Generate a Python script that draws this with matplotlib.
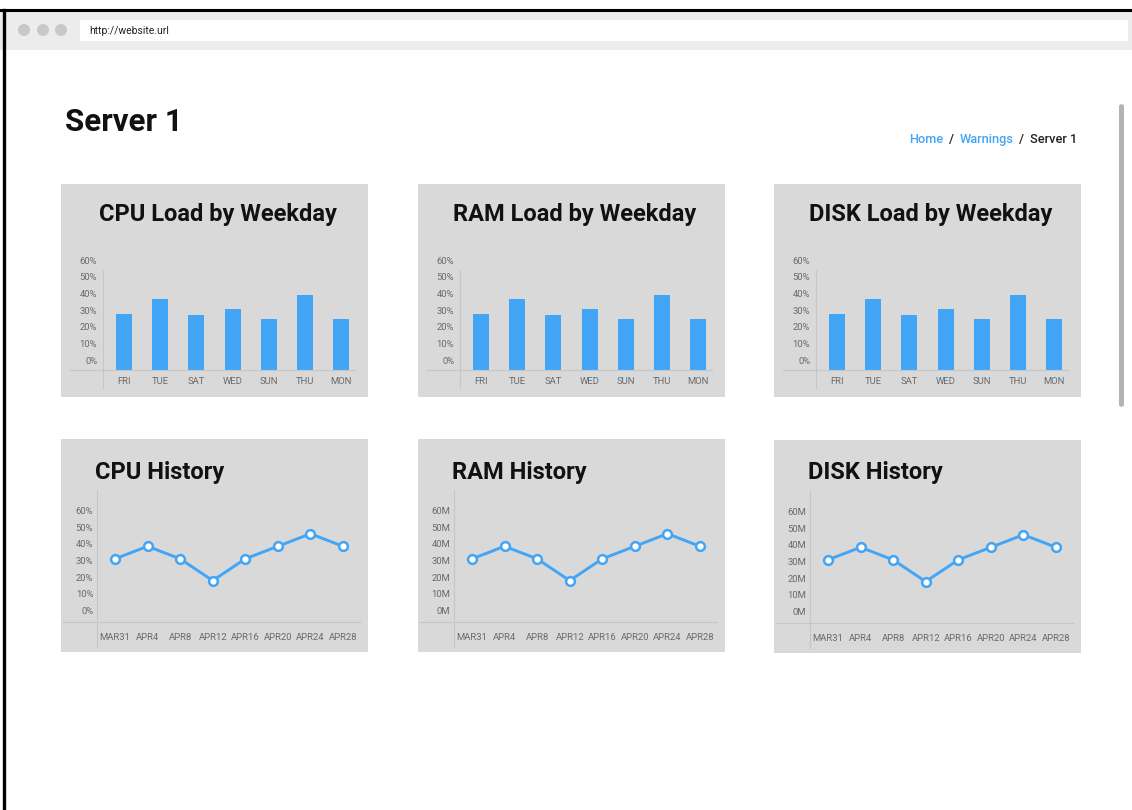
import matplotlib
matplotlib.use('Agg')
import matplotlib.pyplot as plt
from matplotlib.patches import Rectangle, Ellipse, FancyBboxPatch
from matplotlib.lines import Line2D

plt.rcParams['font.family'] = ['Roboto', 'DejaVu Sans']

# --- data ---
weekdays = ['FRI', 'TUE', 'SAT', 'WED', 'SUN', 'THU', 'MON']
cpu_load = [28, 37, 27, 31, 25, 39, 25]
ram_load = [28, 37, 27, 31, 25, 39, 25]
disk_load = [28, 37, 27, 31, 25, 39, 25]
load_ticks = [0, 10, 20, 30, 40, 50, 60]

history_dates = ['MAR31', 'APR4', 'APR8', 'APR12', 'APR16', 'APR20', 'APR24', 'APR28']
cpu_history = [31, 38.5, 31, 18, 31, 38.5, 46, 38.5]
ram_history = [31, 38.5, 31, 18, 31, 38.5, 46, 38.5]
disk_history = [31, 38.5, 31, 18, 31, 38.5, 46, 38.5]
history_ticks = [0, 10, 20, 30, 40, 50, 60]

W, H = 1132, 810
BLUE = '#42a5f5'
CARD = '#d9d9d9'
GRID = '#c6c6c6'
TICK = '#6a6a6a'

fig = plt.figure(figsize=(W / 100, H / 100), dpi=100)
fig.patch.set_facecolor('white')


def px_box(x, y, w, h):
    return [x / W, 1 - (y + h) / H, w / W, h / H]


def px_line(x0, y0, x1, y1, color=GRID, lw=0.8, z=2):
    fig.add_artist(Line2D([x0 / W, x1 / W], [1 - y0 / H, 1 - y1 / H],
                          transform=fig.transFigure, color=color, lw=lw, zorder=z))


def px_rect(x, y, w, h, color):
    fig.add_artist(Rectangle((x / W, 1 - (y + h) / H), w / W, h / H,
                             transform=fig.transFigure, color=color, lw=0, zorder=-1))


def px_text(x, y, s, **kw):
    return fig.text(x / W, 1 - y / H, s, **kw)


# browser chrome
px_rect(0, 10, W, 40, '#ececec')
px_rect(80, 20, 1048, 21, 'white')
for cx in (24, 43, 61):
    fig.add_artist(Ellipse((cx / W, 1 - 30 / H), 12 / W, 12 / H, transform=fig.transFigure,
                           color='#c8c8c8', lw=0))
px_text(89, 30.5, 'http://website.url', fontsize=7.5, color='#222222', va='center')
px_line(0, 10, W, 10, color='black', lw=2.2)
px_line(3.5, 10, 3.5, H, color='black', lw=2.4)

# scrollbar
fig.add_artist(FancyBboxPatch((1119 / W, 1 - 407 / H), 5 / W, 303 / H,
                              boxstyle='round,pad=0,rounding_size=0.003',
                              transform=fig.transFigure, color='#b3b3b3', lw=0))

# page header
px_text(65, 122, 'Server 1', fontsize=22.5, fontweight='bold', va='center', color='#111111')

renderer = fig.canvas.get_renderer()
crumbs = [('Server 1', '#222222'), ('/', '#222222'), ('Warnings', BLUE), ('/', '#222222'), ('Home', BLUE)]
right = 1077
for label, col in crumbs:
    t = px_text(right, 139.5, label, fontsize=9.2, color=col, ha='right', va='center',
                fontweight='medium')
    w = t.get_window_extent(renderer).width
    right -= w + 5.6


def style_axis(ax):
    ax.set_facecolor('none')
    for s in ax.spines.values():
        s.set_visible(False)
    ax.tick_params(length=0, labelsize=6.8, labelcolor=TICK)


def bar_card(cx, cy, title, values):
    px_rect(cx, cy, 307, 213, CARD)
    px_text(cx + 156.5, cy + 31, title, fontsize=17, fontweight='bold',
            ha='center', va='center', color='#111111')
    zero, step = 176, 1.66
    top, bottom, left, rgt = 66, 186, 41.7, 297
    ax = fig.add_axes(px_box(cx + left, cy + top, rgt - left, bottom - top))
    low = -(bottom - zero) / step
    high = (zero - top) / step
    first, gap = 63, 36.2
    ax.set_xlim((left - first) / gap, (rgt - first) / gap)
    ax.set_ylim(low, high)
    xs = list(range(len(weekdays)))
    ax.bar(xs, [v - low for v in values], bottom=low, width=16 / gap, color=BLUE)
    style_axis(ax)
    ax.set_yticks(load_ticks)
    ax.set_yticklabels([f'{t}%' for t in load_ticks])
    ax.set_xticks(xs)
    ax.set_xticklabels(weekdays)
    ax.tick_params(axis='y', pad=4.0)
    ax.tick_params(axis='x', pad=5.3)
    px_line(cx + 9, cy + bottom, cx + 294, cy + bottom)
    px_line(cx + left, cy + 86, cx + left, cy + 204)


def line_card(cx, cy, title, values, unit):
    px_rect(cx, cy, 307, 213, CARD)
    px_text(cx + 34, cy + 33, title, fontsize=17, fontweight='bold',
            ha='left', va='center', color='#111111')
    zero, step = 171.7, 1.673
    top, bottom, left, rgt = 56, 183, 36, 299
    ax = fig.add_axes(px_box(cx + left, cy + top, rgt - left, bottom - top))
    first, gap = 54, 32.57
    ax.set_xlim((left - first) / gap, (rgt - first) / gap)
    ax.set_ylim(-(bottom - zero) / step, (zero - top) / step)
    xs = list(range(len(history_dates)))
    ax.plot(xs, values, color=BLUE, lw=2.1, marker='o', markersize=6.3,
            markerfacecolor='white', markeredgecolor=BLUE, markeredgewidth=1.8)
    style_axis(ax)
    ax.set_yticks(history_ticks)
    ax.set_yticklabels([f'{t}{unit}' for t in history_ticks])
    ax.set_xticks(xs)
    ax.set_xticklabels(history_dates)
    ax.tick_params(axis='y', pad=2.7)
    ax.tick_params(axis='x', pad=7.7)
    px_line(cx + 2, cy + bottom, cx + 299, cy + bottom)
    px_line(cx + left, cy + 51, cx + left, cy + 208)


bar_card(61, 184, 'CPU Load by Weekday', cpu_load)
bar_card(418, 184, 'RAM Load by Weekday', ram_load)
bar_card(774, 184, 'DISK Load by Weekday', disk_load)

line_card(61, 439, 'CPU History', cpu_history, '%')
line_card(418, 439, 'RAM History', ram_history, 'M')
line_card(774, 440, 'DISK History', disk_history, 'M')

fig.savefig('out.png', dpi=100)
